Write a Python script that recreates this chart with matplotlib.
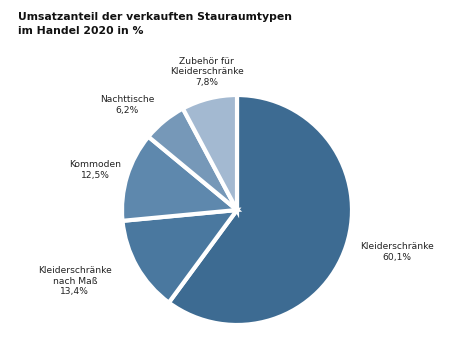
import numpy as np
import matplotlib
matplotlib.use("Agg")
import matplotlib.pyplot as plt

title = "Umsatzanteil der verkauften Stauraumtypen\nim Handel 2020 in %"
labels = ["Kleiderschränke", "Kleiderschränke\nnach Maß", "Kommoden",
          "Nachttische", "Zubehör für\nKleiderschränke"]
shares = [60.1, 13.4, 12.5, 6.2, 7.8]
colors = ["#3d6b92", "#4a789f", "#5e88ad", "#7698b8", "#a3b9d1"]
# label placement: (distance in radii, angle shift in degrees)
label_dist = [1.435, 1.54, 1.28, 1.32, 1.23]
label_shift = [3.5, -5.8, 1.4, 7.1, -1.7]

fig = plt.figure(figsize=(4.5, 3.62), dpi=100)
ax = fig.add_axes([0, 0, 1, 1])

cx, cy, r = 237, 152, 115
wedges, _ = ax.pie(shares, colors=colors, startangle=90, counterclock=False,
                   center=(cx, cy), radius=r, frame=True,
                   wedgeprops=dict(edgecolor="white", linewidth=3))
ax.set_xlim(0, 450)
ax.set_ylim(0, 362)
ax.set_aspect("equal")
ax.axis("off")

for w, lab, val, d, s in zip(wedges, labels, shares, label_dist, label_shift):
    ang = np.deg2rad((w.theta1 + w.theta2) / 2 + s)
    x = cx + r * d * np.cos(ang)
    y = cy + r * d * np.sin(ang)
    txt = f"{lab}\n{val:.1f}%".replace(".", ",")
    ax.text(x, y, txt, ha="center", va="center", fontsize=6.6,
            color="#222222", linespacing=1.25)

fig.text(18 / 450, 1 - 12 / 362, title, ha="left", va="top", fontsize=7.8,
         fontweight="bold", color="#111111", linespacing=1.45)

fig.savefig("out.png", dpi=100)
